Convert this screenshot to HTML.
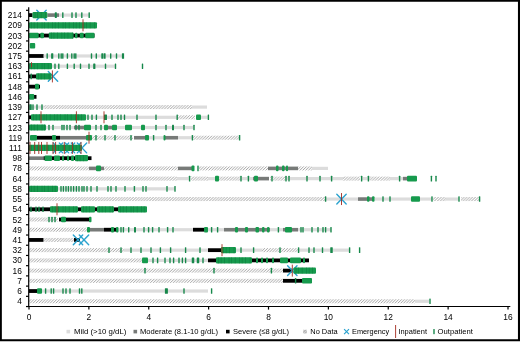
<!DOCTYPE html>
<html><head><meta charset="utf-8"><title>Hemoglobin timeline</title>
<style>
html,body{margin:0;padding:0;background:#fff}
body{width:520px;height:342px;overflow:hidden}
svg{display:block}
text{font-family:"Liberation Sans",Arial,sans-serif;fill:#000}
.yl{font-size:8.4px;text-anchor:end}
.xl{font-size:8.4px;text-anchor:middle}
.lg{font-size:8px}
</style></head><body>
<svg width="520" height="342" viewBox="0 0 520 342">
<defs><pattern id="h" patternUnits="userSpaceOnUse" width="2.85" height="2.85">
<path d="M-1 3.85L3.85 -1M-1 1L1 -1M1.85 3.85L3.85 1.85" stroke="#9c9c9c" stroke-width="0.95" fill="none"/></pattern></defs>
<rect width="520" height="342" fill="#fff"/>
<path d="M0.8 0.8H519V340.3H0.8Z" fill="none" stroke="#000" stroke-width="2.1"/>

<g shape-rendering="auto">
<rect x="29" y="13.2" width="3.5" height="3.8" fill="#000"/>
<rect x="47.3" y="13.3" width="11.7" height="3.6" fill="#777a78"/>
<rect x="59" y="13.5" width="31" height="3.2" fill="#dcdcdc"/>
<rect x="29" y="33.64" width="65.5" height="3.8" fill="#000"/>
<rect x="29" y="54.08" width="14.7" height="3.8" fill="#000"/>
<rect x="43.7" y="54.38" width="79.3" height="3.2" fill="#dcdcdc"/>
<rect x="39.5" y="64.3" width="2.5" height="3.8" fill="#000"/>
<rect x="52" y="64.6" width="64" height="3.2" fill="#dcdcdc"/>
<rect x="29" y="74.52" width="7.5" height="3.8" fill="#000"/>
<rect x="29" y="84.74" width="11" height="3.8" fill="#000"/>
<rect x="33" y="94.96" width="3.5" height="3.8" fill="#000"/>
<rect x="29" y="105.48" width="15" height="3.2" fill="#dcdcdc"/>
<rect x="44" y="105.08" width="148" height="4" fill="url(#h)"/>
<rect x="192" y="105.48" width="15" height="3.2" fill="#dcdcdc"/>
<rect x="29" y="115.4" width="6" height="3.8" fill="#000"/>
<rect x="86" y="115.7" width="91" height="3.2" fill="#dcdcdc"/>
<rect x="178" y="115.3" width="17" height="4" fill="url(#h)"/>
<rect x="201" y="115.7" width="7" height="3.2" fill="#dcdcdc"/>
<rect x="46" y="125.92" width="148" height="3.2" fill="#dcdcdc"/>
<rect x="74" y="125.72" width="11" height="3.6" fill="#777a78"/>
<rect x="108" y="125.72" width="4" height="3.6" fill="#777a78"/>
<rect x="37" y="135.84" width="23" height="3.8" fill="#000"/>
<rect x="60" y="135.94" width="26" height="3.6" fill="#777a78"/>
<rect x="92" y="135.74" width="41" height="4" fill="url(#h)"/>
<rect x="134" y="135.94" width="12" height="3.6" fill="#777a78"/>
<rect x="149" y="136.14" width="16" height="3.2" fill="#dcdcdc"/>
<rect x="165" y="135.94" width="13" height="3.6" fill="#777a78"/>
<rect x="178" y="136.14" width="14" height="3.2" fill="#dcdcdc"/>
<rect x="193" y="135.74" width="46" height="4" fill="url(#h)"/>
<rect x="29" y="156.38" width="14.5" height="3.6" fill="#777a78"/>
<rect x="43.5" y="156.28" width="48" height="3.8" fill="#000"/>
<rect x="29" y="166.4" width="60" height="4" fill="url(#h)"/>
<rect x="89" y="166.6" width="15" height="3.6" fill="#777a78"/>
<rect x="104" y="166.4" width="74" height="4" fill="url(#h)"/>
<rect x="178" y="166.6" width="15" height="3.6" fill="#777a78"/>
<rect x="199" y="166.4" width="69" height="4" fill="url(#h)"/>
<rect x="268" y="166.6" width="30" height="3.6" fill="#777a78"/>
<rect x="298" y="166.4" width="14" height="4" fill="url(#h)"/>
<rect x="312" y="166.8" width="16" height="3.2" fill="#dcdcdc"/>
<rect x="29" y="176.62" width="148" height="4" fill="url(#h)"/>
<rect x="177" y="177.02" width="12" height="3.2" fill="#dcdcdc"/>
<rect x="191" y="176.62" width="17" height="4" fill="url(#h)"/>
<rect x="208" y="177.02" width="7" height="3.2" fill="#dcdcdc"/>
<rect x="219" y="176.62" width="21" height="4" fill="url(#h)"/>
<rect x="240" y="177.02" width="13" height="3.2" fill="#dcdcdc"/>
<rect x="253" y="176.82" width="16" height="3.6" fill="#777a78"/>
<rect x="270" y="176.62" width="15" height="4" fill="url(#h)"/>
<rect x="285" y="177.02" width="58" height="3.2" fill="#dcdcdc"/>
<rect x="343" y="176.62" width="17" height="4" fill="url(#h)"/>
<rect x="361" y="177.02" width="9" height="3.2" fill="#dcdcdc"/>
<rect x="370" y="176.62" width="20" height="4" fill="url(#h)"/>
<rect x="390" y="177.02" width="13" height="3.2" fill="#dcdcdc"/>
<rect x="403" y="176.82" width="5" height="3.6" fill="#777a78"/>
<rect x="58" y="187.24" width="117" height="3.2" fill="#dcdcdc"/>
<rect x="29" y="197.06" width="296" height="4" fill="url(#h)"/>
<rect x="326" y="197.46" width="32" height="3.2" fill="#dcdcdc"/>
<rect x="358" y="197.26" width="16" height="3.6" fill="#777a78"/>
<rect x="374" y="197.46" width="37" height="3.2" fill="#dcdcdc"/>
<rect x="420" y="197.46" width="12" height="3.2" fill="#dcdcdc"/>
<rect x="433" y="197.06" width="13" height="4" fill="url(#h)"/>
<rect x="446" y="197.46" width="13" height="3.2" fill="#dcdcdc"/>
<rect x="461" y="197.06" width="18" height="4" fill="url(#h)"/>
<rect x="29" y="207.38" width="118" height="3.8" fill="#000"/>
<rect x="29" y="217.5" width="29" height="4" fill="url(#h)"/>
<rect x="59" y="217.6" width="32" height="3.8" fill="#000"/>
<rect x="29" y="227.72" width="58" height="4" fill="url(#h)"/>
<rect x="90" y="227.92" width="14" height="3.6" fill="#777a78"/>
<rect x="104" y="227.82" width="14" height="3.8" fill="#000"/>
<rect x="118" y="228.12" width="75" height="3.2" fill="#dcdcdc"/>
<rect x="193" y="227.82" width="11" height="3.8" fill="#000"/>
<rect x="208" y="228.12" width="16" height="3.2" fill="#dcdcdc"/>
<rect x="224" y="227.92" width="46" height="3.6" fill="#777a78"/>
<rect x="270" y="228.12" width="13" height="3.2" fill="#dcdcdc"/>
<rect x="283" y="227.92" width="15" height="3.6" fill="#777a78"/>
<rect x="298" y="228.12" width="33" height="3.2" fill="#dcdcdc"/>
<rect x="29" y="238.04" width="14.5" height="3.8" fill="#000"/>
<rect x="43.5" y="237.94" width="30.5" height="4" fill="url(#h)"/>
<rect x="74" y="238.04" width="6" height="3.8" fill="#000"/>
<rect x="29" y="248.16" width="95" height="4" fill="url(#h)"/>
<rect x="124" y="248.56" width="84" height="3.2" fill="#dcdcdc"/>
<rect x="208" y="248.26" width="14" height="3.8" fill="#000"/>
<rect x="236" y="248.56" width="26" height="3.2" fill="#dcdcdc"/>
<rect x="262" y="248.16" width="36" height="4" fill="url(#h)"/>
<rect x="298" y="248.56" width="51" height="3.2" fill="#dcdcdc"/>
<rect x="29" y="258.38" width="113" height="4" fill="url(#h)"/>
<rect x="148" y="258.78" width="60" height="3.2" fill="#dcdcdc"/>
<rect x="208" y="258.48" width="101" height="3.8" fill="#000"/>
<rect x="29" y="268.6" width="254" height="4" fill="url(#h)"/>
<rect x="283" y="268.7" width="9" height="3.8" fill="#000"/>
<rect x="29" y="278.82" width="254" height="4" fill="url(#h)"/>
<rect x="283" y="278.92" width="29" height="3.8" fill="#000"/>
<rect x="29" y="289.14" width="13" height="3.8" fill="#000"/>
<rect x="42" y="289.44" width="166" height="3.2" fill="#dcdcdc"/>
<rect x="29" y="299.26" width="386" height="4" fill="url(#h)"/>
<rect x="415" y="299.66" width="14" height="3.2" fill="#dcdcdc"/>
</g><g stroke="#2ba3cf" stroke-width="1.4" fill="none" stroke-linecap="round">
<path d="M36.8 10.2L46.2 20M36.8 20L46.2 10.2"/>
<path d="M48.3 71.52L57.7 81.32M48.3 81.32L57.7 71.52"/>
<path d="M53.3 143.06L62.7 152.86M53.3 152.86L62.7 143.06"/>
<path d="M59.3 143.06L68.7 152.86M59.3 152.86L68.7 143.06"/>
<path d="M65.3 143.06L74.7 152.86M65.3 152.86L74.7 143.06"/>
<path d="M71.3 143.06L80.7 152.86M71.3 152.86L80.7 143.06"/>
<path d="M77.3 143.06L86.7 152.86M77.3 152.86L86.7 143.06"/>
<path d="M336.8 194.16L346.2 203.96M336.8 203.96L346.2 194.16"/>
<path d="M73.3 235.04L82.7 244.84M73.3 244.84L82.7 235.04"/>
<path d="M79.3 235.04L88.7 244.84M79.3 244.84L88.7 235.04"/>
<path d="M287.6 265.7L297 275.5M287.6 275.5L297 265.7"/>
</g><g>
<rect x="32.5" y="12" width="14.8" height="6.2" rx="1" fill="#169a4d"/>
<rect x="34.7" y="12" width="0.7" height="6.2" fill="#0c7038" opacity="0.55"/>
<rect x="37.3" y="12" width="0.7" height="6.2" fill="#0c7038" opacity="0.55"/>
<rect x="40.8" y="12" width="0.7" height="6.2" fill="#0c7038" opacity="0.55"/>
<rect x="45.2" y="12" width="0.7" height="6.2" fill="#0c7038" opacity="0.55"/>
<rect x="54.8" y="12.3" width="2" height="5.6" rx="0.5" fill="#17884b"/>
<rect x="62.1" y="12.3" width="1.4" height="5.6" rx="0.5" fill="#17884b"/>
<rect x="71.3" y="12.3" width="1.4" height="5.6" rx="0.5" fill="#17884b"/>
<rect x="75.3" y="12.3" width="1.4" height="5.6" rx="0.5" fill="#17884b"/>
<rect x="81.1" y="12.3" width="1.4" height="5.6" rx="0.5" fill="#17884b"/>
<rect x="88.5" y="12.3" width="1.4" height="5.6" rx="0.5" fill="#17884b"/>
<rect x="29" y="22.22" width="68" height="6.2" rx="1" fill="#169a4d"/>
<rect x="31.2" y="22.22" width="0.7" height="6.2" fill="#0c7038" opacity="0.55"/>
<rect x="33.8" y="22.22" width="0.7" height="6.2" fill="#0c7038" opacity="0.55"/>
<rect x="37.3" y="22.22" width="0.7" height="6.2" fill="#0c7038" opacity="0.55"/>
<rect x="41.7" y="22.22" width="0.7" height="6.2" fill="#0c7038" opacity="0.55"/>
<rect x="44.3" y="22.22" width="0.7" height="6.2" fill="#0c7038" opacity="0.55"/>
<rect x="47.8" y="22.22" width="0.7" height="6.2" fill="#0c7038" opacity="0.55"/>
<rect x="52.2" y="22.22" width="0.7" height="6.2" fill="#0c7038" opacity="0.55"/>
<rect x="54.8" y="22.22" width="0.7" height="6.2" fill="#0c7038" opacity="0.55"/>
<rect x="58.3" y="22.22" width="0.7" height="6.2" fill="#0c7038" opacity="0.55"/>
<rect x="62.7" y="22.22" width="0.7" height="6.2" fill="#0c7038" opacity="0.55"/>
<rect x="65.3" y="22.22" width="0.7" height="6.2" fill="#0c7038" opacity="0.55"/>
<rect x="68.8" y="22.22" width="0.7" height="6.2" fill="#0c7038" opacity="0.55"/>
<rect x="73.2" y="22.22" width="0.7" height="6.2" fill="#0c7038" opacity="0.55"/>
<rect x="75.8" y="22.22" width="0.7" height="6.2" fill="#0c7038" opacity="0.55"/>
<rect x="79.3" y="22.22" width="0.7" height="6.2" fill="#0c7038" opacity="0.55"/>
<rect x="83.7" y="22.22" width="0.7" height="6.2" fill="#0c7038" opacity="0.55"/>
<rect x="86.3" y="22.22" width="0.7" height="6.2" fill="#0c7038" opacity="0.55"/>
<rect x="89.8" y="22.22" width="0.7" height="6.2" fill="#0c7038" opacity="0.55"/>
<rect x="94.2" y="22.22" width="0.7" height="6.2" fill="#0c7038" opacity="0.55"/>
<rect x="29" y="32.74" width="9.7" height="5.6" rx="1" fill="#169a4d"/>
<rect x="40.3" y="32.74" width="3.7" height="5.6" rx="1" fill="#169a4d"/>
<rect x="48.8" y="32.44" width="24.8" height="6.2" rx="1" fill="#169a4d"/>
<rect x="51" y="32.44" width="0.7" height="6.2" fill="#0c7038" opacity="0.55"/>
<rect x="53.6" y="32.44" width="0.7" height="6.2" fill="#0c7038" opacity="0.55"/>
<rect x="57.1" y="32.44" width="0.7" height="6.2" fill="#0c7038" opacity="0.55"/>
<rect x="61.5" y="32.44" width="0.7" height="6.2" fill="#0c7038" opacity="0.55"/>
<rect x="64.1" y="32.44" width="0.7" height="6.2" fill="#0c7038" opacity="0.55"/>
<rect x="67.6" y="32.44" width="0.7" height="6.2" fill="#0c7038" opacity="0.55"/>
<rect x="72" y="32.44" width="0.7" height="6.2" fill="#0c7038" opacity="0.55"/>
<rect x="75" y="32.74" width="2.5" height="5.6" rx="1" fill="#169a4d"/>
<rect x="79.8" y="32.74" width="3.9" height="5.6" rx="1" fill="#169a4d"/>
<rect x="85.2" y="32.74" width="9.3" height="5.6" rx="1" fill="#169a4d"/>
<rect x="29.8" y="42.96" width="5.4" height="5.6" rx="1" fill="#169a4d"/>
<rect x="46.5" y="53.18" width="1.4" height="5.6" rx="0.5" fill="#17884b"/>
<rect x="51.1" y="53.18" width="2.2" height="5.6" rx="0.5" fill="#17884b"/>
<rect x="58.1" y="53.18" width="1.4" height="5.6" rx="0.5" fill="#17884b"/>
<rect x="60.5" y="53.18" width="1.4" height="5.6" rx="0.5" fill="#17884b"/>
<rect x="62.1" y="53.18" width="1.4" height="5.6" rx="0.5" fill="#17884b"/>
<rect x="66.7" y="53.18" width="1.4" height="5.6" rx="0.5" fill="#17884b"/>
<rect x="71.1" y="53.18" width="1.4" height="5.6" rx="0.5" fill="#17884b"/>
<rect x="73.5" y="53.18" width="1.4" height="5.6" rx="0.5" fill="#17884b"/>
<rect x="75.1" y="53.18" width="1.4" height="5.6" rx="0.5" fill="#17884b"/>
<rect x="90.8" y="53.18" width="1.4" height="5.6" rx="0.5" fill="#17884b"/>
<rect x="95.6" y="53.18" width="1.4" height="5.6" rx="0.5" fill="#17884b"/>
<rect x="101.3" y="53.18" width="2" height="5.6" rx="0.5" fill="#17884b"/>
<rect x="103.6" y="53.18" width="2" height="5.6" rx="0.5" fill="#17884b"/>
<rect x="110" y="53.18" width="1.4" height="5.6" rx="0.5" fill="#17884b"/>
<rect x="115.8" y="53.18" width="1.4" height="5.6" rx="0.5" fill="#17884b"/>
<rect x="121.9" y="53.18" width="2.2" height="5.6" rx="0.5" fill="#17884b"/>
<rect x="29" y="63.1" width="23" height="6.2" rx="1" fill="#169a4d"/>
<rect x="31.2" y="63.1" width="0.7" height="6.2" fill="#0c7038" opacity="0.55"/>
<rect x="33.8" y="63.1" width="0.7" height="6.2" fill="#0c7038" opacity="0.55"/>
<rect x="37.3" y="63.1" width="0.7" height="6.2" fill="#0c7038" opacity="0.55"/>
<rect x="41.7" y="63.1" width="0.7" height="6.2" fill="#0c7038" opacity="0.55"/>
<rect x="44.3" y="63.1" width="0.7" height="6.2" fill="#0c7038" opacity="0.55"/>
<rect x="47.8" y="63.1" width="0.7" height="6.2" fill="#0c7038" opacity="0.55"/>
<rect x="54.3" y="63.4" width="1.4" height="5.6" rx="0.5" fill="#17884b"/>
<rect x="58.1" y="63.4" width="1.4" height="5.6" rx="0.5" fill="#17884b"/>
<rect x="66.7" y="63.4" width="1.4" height="5.6" rx="0.5" fill="#17884b"/>
<rect x="73.5" y="63.4" width="1.4" height="5.6" rx="0.5" fill="#17884b"/>
<rect x="79.8" y="63.4" width="1.4" height="5.6" rx="0.5" fill="#17884b"/>
<rect x="88.3" y="63.4" width="1.4" height="5.6" rx="0.5" fill="#17884b"/>
<rect x="93.2" y="63.4" width="2.2" height="5.6" rx="0.5" fill="#17884b"/>
<rect x="104.8" y="63.4" width="1.4" height="5.6" rx="0.5" fill="#17884b"/>
<rect x="114.8" y="63.4" width="1.4" height="5.6" rx="0.5" fill="#17884b"/>
<rect x="141.8" y="63.4" width="1.4" height="5.6" rx="0.5" fill="#17884b"/>
<rect x="30.5" y="73.62" width="1.4" height="5.6" rx="0.5" fill="#17884b"/>
<rect x="36" y="73.32" width="15.5" height="6.2" rx="1" fill="#169a4d"/>
<rect x="38.2" y="73.32" width="0.7" height="6.2" fill="#0c7038" opacity="0.55"/>
<rect x="40.8" y="73.32" width="0.7" height="6.2" fill="#0c7038" opacity="0.55"/>
<rect x="44.3" y="73.32" width="0.7" height="6.2" fill="#0c7038" opacity="0.55"/>
<rect x="48.7" y="73.32" width="0.7" height="6.2" fill="#0c7038" opacity="0.55"/>
<rect x="35" y="83.84" width="4" height="5.6" rx="1" fill="#169a4d"/>
<rect x="29" y="94.06" width="5.2" height="5.6" rx="1" fill="#169a4d"/>
<rect x="29.25" y="104.28" width="2.5" height="5.6" rx="0.5" fill="#17884b"/>
<rect x="32.3" y="104.28" width="1.4" height="5.6" rx="0.5" fill="#17884b"/>
<rect x="36.3" y="104.28" width="1.4" height="5.6" rx="0.5" fill="#17884b"/>
<rect x="41.3" y="104.28" width="1.4" height="5.6" rx="0.5" fill="#17884b"/>
<rect x="31" y="114.2" width="55" height="6.2" rx="1" fill="#169a4d"/>
<rect x="33.2" y="114.2" width="0.7" height="6.2" fill="#0c7038" opacity="0.55"/>
<rect x="35.8" y="114.2" width="0.7" height="6.2" fill="#0c7038" opacity="0.55"/>
<rect x="39.3" y="114.2" width="0.7" height="6.2" fill="#0c7038" opacity="0.55"/>
<rect x="43.7" y="114.2" width="0.7" height="6.2" fill="#0c7038" opacity="0.55"/>
<rect x="46.3" y="114.2" width="0.7" height="6.2" fill="#0c7038" opacity="0.55"/>
<rect x="49.8" y="114.2" width="0.7" height="6.2" fill="#0c7038" opacity="0.55"/>
<rect x="54.2" y="114.2" width="0.7" height="6.2" fill="#0c7038" opacity="0.55"/>
<rect x="56.8" y="114.2" width="0.7" height="6.2" fill="#0c7038" opacity="0.55"/>
<rect x="60.3" y="114.2" width="0.7" height="6.2" fill="#0c7038" opacity="0.55"/>
<rect x="64.7" y="114.2" width="0.7" height="6.2" fill="#0c7038" opacity="0.55"/>
<rect x="67.3" y="114.2" width="0.7" height="6.2" fill="#0c7038" opacity="0.55"/>
<rect x="70.8" y="114.2" width="0.7" height="6.2" fill="#0c7038" opacity="0.55"/>
<rect x="75.2" y="114.2" width="0.7" height="6.2" fill="#0c7038" opacity="0.55"/>
<rect x="77.8" y="114.2" width="0.7" height="6.2" fill="#0c7038" opacity="0.55"/>
<rect x="81.3" y="114.2" width="0.7" height="6.2" fill="#0c7038" opacity="0.55"/>
<rect x="87.3" y="114.5" width="1.4" height="5.6" rx="0.5" fill="#17884b"/>
<rect x="91.3" y="114.5" width="1.4" height="5.6" rx="0.5" fill="#17884b"/>
<rect x="95.7" y="114.5" width="1.4" height="5.6" rx="0.5" fill="#17884b"/>
<rect x="104" y="114.5" width="3" height="5.6" rx="0.5" fill="#17884b"/>
<rect x="111.3" y="114.5" width="1.4" height="5.6" rx="0.5" fill="#17884b"/>
<rect x="117.3" y="114.5" width="1.4" height="5.6" rx="0.5" fill="#17884b"/>
<rect x="120.3" y="114.5" width="1.4" height="5.6" rx="0.5" fill="#17884b"/>
<rect x="123.8" y="114.5" width="1.4" height="5.6" rx="0.5" fill="#17884b"/>
<rect x="136.3" y="114.5" width="1.4" height="5.6" rx="0.5" fill="#17884b"/>
<rect x="155.3" y="114.5" width="1.4" height="5.6" rx="0.5" fill="#17884b"/>
<rect x="176.5" y="114.5" width="1.4" height="5.6" rx="0.5" fill="#17884b"/>
<rect x="196" y="114.5" width="5" height="5.6" rx="1" fill="#169a4d"/>
<rect x="207.7" y="114.5" width="1.4" height="5.6" rx="0.5" fill="#17884b"/>
<rect x="29" y="124.42" width="17" height="6.2" rx="1" fill="#169a4d"/>
<rect x="31.2" y="124.42" width="0.7" height="6.2" fill="#0c7038" opacity="0.55"/>
<rect x="33.8" y="124.42" width="0.7" height="6.2" fill="#0c7038" opacity="0.55"/>
<rect x="37.3" y="124.42" width="0.7" height="6.2" fill="#0c7038" opacity="0.55"/>
<rect x="41.7" y="124.42" width="0.7" height="6.2" fill="#0c7038" opacity="0.55"/>
<rect x="44.3" y="124.42" width="0.7" height="6.2" fill="#0c7038" opacity="0.55"/>
<rect x="48.3" y="124.72" width="1.4" height="5.6" rx="0.5" fill="#17884b"/>
<rect x="52.3" y="124.72" width="1.4" height="5.6" rx="0.5" fill="#17884b"/>
<rect x="61.3" y="124.72" width="1.4" height="5.6" rx="0.5" fill="#17884b"/>
<rect x="63.3" y="124.72" width="1.4" height="5.6" rx="0.5" fill="#17884b"/>
<rect x="66.3" y="124.72" width="1.4" height="5.6" rx="0.5" fill="#17884b"/>
<rect x="69.3" y="124.72" width="1.4" height="5.6" rx="0.5" fill="#17884b"/>
<rect x="75.3" y="124.72" width="1.4" height="5.6" rx="0.5" fill="#17884b"/>
<rect x="78.3" y="124.72" width="1.4" height="5.6" rx="0.5" fill="#17884b"/>
<rect x="84" y="124.72" width="7" height="5.6" rx="1" fill="#169a4d"/>
<rect x="95.3" y="124.72" width="1.4" height="5.6" rx="0.5" fill="#17884b"/>
<rect x="100.3" y="124.72" width="1.4" height="5.6" rx="0.5" fill="#17884b"/>
<rect x="104" y="124.72" width="4" height="5.6" rx="1" fill="#169a4d"/>
<rect x="112" y="124.72" width="5" height="5.6" rx="1" fill="#169a4d"/>
<rect x="125" y="124.72" width="7" height="5.6" rx="1" fill="#169a4d"/>
<rect x="141" y="124.72" width="4" height="5.6" rx="1" fill="#169a4d"/>
<rect x="155.3" y="124.72" width="1.4" height="5.6" rx="0.5" fill="#17884b"/>
<rect x="165.3" y="124.72" width="1.4" height="5.6" rx="0.5" fill="#17884b"/>
<rect x="172" y="124.72" width="2" height="5.6" rx="0.5" fill="#17884b"/>
<rect x="183.3" y="124.72" width="1.4" height="5.6" rx="0.5" fill="#17884b"/>
<rect x="193.3" y="124.72" width="1.4" height="5.6" rx="0.5" fill="#17884b"/>
<rect x="30" y="134.94" width="7" height="5.6" rx="1" fill="#169a4d"/>
<rect x="52" y="134.94" width="4" height="5.6" rx="1" fill="#169a4d"/>
<rect x="86" y="134.94" width="6" height="5.6" rx="1" fill="#169a4d"/>
<rect x="95.3" y="134.94" width="1.4" height="5.6" rx="0.5" fill="#17884b"/>
<rect x="104.3" y="134.94" width="1.4" height="5.6" rx="0.5" fill="#17884b"/>
<rect x="114.3" y="134.94" width="1.4" height="5.6" rx="0.5" fill="#17884b"/>
<rect x="130.3" y="134.94" width="1.4" height="5.6" rx="0.5" fill="#17884b"/>
<rect x="145" y="134.94" width="4" height="5.6" rx="1" fill="#169a4d"/>
<rect x="152.9" y="134.94" width="1.4" height="5.6" rx="0.5" fill="#17884b"/>
<rect x="163.5" y="134.94" width="2" height="5.6" rx="1" fill="#169a4d"/>
<rect x="191.7" y="134.94" width="1.4" height="5.6" rx="0.5" fill="#17884b"/>
<rect x="238.9" y="134.94" width="1.4" height="5.6" rx="0.5" fill="#17884b"/>
<rect x="29" y="144.86" width="53" height="6.2" rx="1" fill="#169a4d"/>
<rect x="31.2" y="144.86" width="0.7" height="6.2" fill="#0c7038" opacity="0.55"/>
<rect x="33.8" y="144.86" width="0.7" height="6.2" fill="#0c7038" opacity="0.55"/>
<rect x="37.3" y="144.86" width="0.7" height="6.2" fill="#0c7038" opacity="0.55"/>
<rect x="41.7" y="144.86" width="0.7" height="6.2" fill="#0c7038" opacity="0.55"/>
<rect x="44.3" y="144.86" width="0.7" height="6.2" fill="#0c7038" opacity="0.55"/>
<rect x="47.8" y="144.86" width="0.7" height="6.2" fill="#0c7038" opacity="0.55"/>
<rect x="52.2" y="144.86" width="0.7" height="6.2" fill="#0c7038" opacity="0.55"/>
<rect x="54.8" y="144.86" width="0.7" height="6.2" fill="#0c7038" opacity="0.55"/>
<rect x="58.3" y="144.86" width="0.7" height="6.2" fill="#0c7038" opacity="0.55"/>
<rect x="62.7" y="144.86" width="0.7" height="6.2" fill="#0c7038" opacity="0.55"/>
<rect x="65.3" y="144.86" width="0.7" height="6.2" fill="#0c7038" opacity="0.55"/>
<rect x="68.8" y="144.86" width="0.7" height="6.2" fill="#0c7038" opacity="0.55"/>
<rect x="73.2" y="144.86" width="0.7" height="6.2" fill="#0c7038" opacity="0.55"/>
<rect x="75.8" y="144.86" width="0.7" height="6.2" fill="#0c7038" opacity="0.55"/>
<rect x="79.3" y="144.86" width="0.7" height="6.2" fill="#0c7038" opacity="0.55"/>
<rect x="44.5" y="155.38" width="7.5" height="5.6" rx="1" fill="#169a4d"/>
<rect x="54" y="155.38" width="6" height="5.6" rx="1" fill="#169a4d"/>
<rect x="62" y="155.38" width="2" height="5.6" rx="1" fill="#169a4d"/>
<rect x="67" y="155.38" width="2" height="5.6" rx="1" fill="#169a4d"/>
<rect x="71" y="155.38" width="3" height="5.6" rx="1" fill="#169a4d"/>
<rect x="75" y="155.08" width="13" height="6.2" rx="1" fill="#169a4d"/>
<rect x="77.2" y="155.08" width="0.7" height="6.2" fill="#0c7038" opacity="0.55"/>
<rect x="79.8" y="155.08" width="0.7" height="6.2" fill="#0c7038" opacity="0.55"/>
<rect x="83.3" y="155.08" width="0.7" height="6.2" fill="#0c7038" opacity="0.55"/>
<rect x="96" y="165.6" width="5" height="5.6" rx="1" fill="#169a4d"/>
<rect x="191.5" y="165.6" width="3" height="5.6" rx="1" fill="#169a4d"/>
<rect x="197.3" y="165.6" width="1.4" height="5.6" rx="0.5" fill="#17884b"/>
<rect x="276" y="165.6" width="2.5" height="5.6" rx="1" fill="#169a4d"/>
<rect x="282" y="165.6" width="2.5" height="5.6" rx="1" fill="#169a4d"/>
<rect x="286" y="165.6" width="2" height="5.6" rx="1" fill="#169a4d"/>
<rect x="188.9" y="175.82" width="1.4" height="5.6" rx="0.5" fill="#17884b"/>
<rect x="215" y="175.82" width="4" height="5.6" rx="1" fill="#169a4d"/>
<rect x="240.3" y="175.82" width="1.4" height="5.6" rx="0.5" fill="#17884b"/>
<rect x="247.7" y="175.82" width="1.4" height="5.6" rx="0.5" fill="#17884b"/>
<rect x="254" y="175.82" width="4" height="5.6" rx="1" fill="#169a4d"/>
<rect x="271.3" y="175.82" width="1.4" height="5.6" rx="0.5" fill="#17884b"/>
<rect x="285.3" y="175.82" width="1.4" height="5.6" rx="0.5" fill="#17884b"/>
<rect x="288.3" y="175.82" width="1.4" height="5.6" rx="0.5" fill="#17884b"/>
<rect x="306.3" y="175.82" width="1.4" height="5.6" rx="0.5" fill="#17884b"/>
<rect x="319.3" y="175.82" width="1.4" height="5.6" rx="0.5" fill="#17884b"/>
<rect x="330.9" y="175.82" width="1.4" height="5.6" rx="0.5" fill="#17884b"/>
<rect x="360.9" y="175.82" width="1.4" height="5.6" rx="0.5" fill="#17884b"/>
<rect x="367.7" y="175.82" width="1.4" height="5.6" rx="0.5" fill="#17884b"/>
<rect x="398.9" y="175.82" width="1.4" height="5.6" rx="0.5" fill="#17884b"/>
<rect x="407" y="175.82" width="10" height="5.6" rx="1" fill="#169a4d"/>
<rect x="430.7" y="175.82" width="1.4" height="5.6" rx="0.5" fill="#17884b"/>
<rect x="435.3" y="175.82" width="1.4" height="5.6" rx="0.5" fill="#17884b"/>
<rect x="29" y="185.74" width="29" height="6.2" rx="1" fill="#169a4d"/>
<rect x="31.2" y="185.74" width="0.7" height="6.2" fill="#0c7038" opacity="0.55"/>
<rect x="33.8" y="185.74" width="0.7" height="6.2" fill="#0c7038" opacity="0.55"/>
<rect x="37.3" y="185.74" width="0.7" height="6.2" fill="#0c7038" opacity="0.55"/>
<rect x="41.7" y="185.74" width="0.7" height="6.2" fill="#0c7038" opacity="0.55"/>
<rect x="44.3" y="185.74" width="0.7" height="6.2" fill="#0c7038" opacity="0.55"/>
<rect x="47.8" y="185.74" width="0.7" height="6.2" fill="#0c7038" opacity="0.55"/>
<rect x="52.2" y="185.74" width="0.7" height="6.2" fill="#0c7038" opacity="0.55"/>
<rect x="54.8" y="185.74" width="0.7" height="6.2" fill="#0c7038" opacity="0.55"/>
<rect x="60.3" y="186.04" width="1.4" height="5.6" rx="0.5" fill="#17884b"/>
<rect x="62.7" y="186.04" width="1.4" height="5.6" rx="0.5" fill="#17884b"/>
<rect x="65.3" y="186.04" width="1.4" height="5.6" rx="0.5" fill="#17884b"/>
<rect x="67.7" y="186.04" width="1.4" height="5.6" rx="0.5" fill="#17884b"/>
<rect x="70.3" y="186.04" width="1.4" height="5.6" rx="0.5" fill="#17884b"/>
<rect x="72.9" y="186.04" width="1.4" height="5.6" rx="0.5" fill="#17884b"/>
<rect x="75.7" y="186.04" width="1.4" height="5.6" rx="0.5" fill="#17884b"/>
<rect x="78.3" y="186.04" width="1.4" height="5.6" rx="0.5" fill="#17884b"/>
<rect x="81.3" y="186.04" width="1.4" height="5.6" rx="0.5" fill="#17884b"/>
<rect x="83.3" y="186.04" width="1.4" height="5.6" rx="0.5" fill="#17884b"/>
<rect x="86.3" y="186.04" width="1.4" height="5.6" rx="0.5" fill="#17884b"/>
<rect x="90.3" y="186.04" width="1.4" height="5.6" rx="0.5" fill="#17884b"/>
<rect x="96.3" y="186.04" width="1.4" height="5.6" rx="0.5" fill="#17884b"/>
<rect x="107.3" y="186.04" width="1.4" height="5.6" rx="0.5" fill="#17884b"/>
<rect x="110.3" y="186.04" width="1.4" height="5.6" rx="0.5" fill="#17884b"/>
<rect x="115.3" y="186.04" width="1.4" height="5.6" rx="0.5" fill="#17884b"/>
<rect x="124.3" y="186.04" width="1.4" height="5.6" rx="0.5" fill="#17884b"/>
<rect x="133.7" y="186.04" width="1.4" height="5.6" rx="0.5" fill="#17884b"/>
<rect x="142.3" y="186.04" width="1.4" height="5.6" rx="0.5" fill="#17884b"/>
<rect x="145.3" y="186.04" width="1.4" height="5.6" rx="0.5" fill="#17884b"/>
<rect x="166.3" y="186.04" width="1.4" height="5.6" rx="0.5" fill="#17884b"/>
<rect x="174.3" y="186.04" width="1.4" height="5.6" rx="0.5" fill="#17884b"/>
<rect x="324.9" y="196.26" width="1.4" height="5.6" rx="0.5" fill="#17884b"/>
<rect x="367" y="196.26" width="2.5" height="5.6" rx="1" fill="#169a4d"/>
<rect x="372" y="196.26" width="2.5" height="5.6" rx="1" fill="#169a4d"/>
<rect x="382.3" y="196.26" width="1.4" height="5.6" rx="0.5" fill="#17884b"/>
<rect x="389.3" y="196.26" width="1.4" height="5.6" rx="0.5" fill="#17884b"/>
<rect x="411" y="196.26" width="9" height="5.6" rx="1" fill="#169a4d"/>
<rect x="431.3" y="196.26" width="1.4" height="5.6" rx="0.5" fill="#17884b"/>
<rect x="458.3" y="196.26" width="1.4" height="5.6" rx="0.5" fill="#17884b"/>
<rect x="478.9" y="196.26" width="1.4" height="5.6" rx="0.5" fill="#17884b"/>
<rect x="30.3" y="206.48" width="1.4" height="5.6" rx="0.5" fill="#17884b"/>
<rect x="35.3" y="206.48" width="1.4" height="5.6" rx="0.5" fill="#17884b"/>
<rect x="38.3" y="206.48" width="1.4" height="5.6" rx="0.5" fill="#17884b"/>
<rect x="42.3" y="206.48" width="1.4" height="5.6" rx="0.5" fill="#17884b"/>
<rect x="50" y="206.18" width="28" height="6.2" rx="1" fill="#169a4d"/>
<rect x="52.2" y="206.18" width="0.7" height="6.2" fill="#0c7038" opacity="0.55"/>
<rect x="54.8" y="206.18" width="0.7" height="6.2" fill="#0c7038" opacity="0.55"/>
<rect x="58.3" y="206.18" width="0.7" height="6.2" fill="#0c7038" opacity="0.55"/>
<rect x="62.7" y="206.18" width="0.7" height="6.2" fill="#0c7038" opacity="0.55"/>
<rect x="65.3" y="206.18" width="0.7" height="6.2" fill="#0c7038" opacity="0.55"/>
<rect x="68.8" y="206.18" width="0.7" height="6.2" fill="#0c7038" opacity="0.55"/>
<rect x="73.2" y="206.18" width="0.7" height="6.2" fill="#0c7038" opacity="0.55"/>
<rect x="75.8" y="206.18" width="0.7" height="6.2" fill="#0c7038" opacity="0.55"/>
<rect x="81" y="206.18" width="14" height="6.2" rx="1" fill="#169a4d"/>
<rect x="83.2" y="206.18" width="0.7" height="6.2" fill="#0c7038" opacity="0.55"/>
<rect x="85.8" y="206.18" width="0.7" height="6.2" fill="#0c7038" opacity="0.55"/>
<rect x="89.3" y="206.18" width="0.7" height="6.2" fill="#0c7038" opacity="0.55"/>
<rect x="97" y="206.18" width="17" height="6.2" rx="1" fill="#169a4d"/>
<rect x="99.2" y="206.18" width="0.7" height="6.2" fill="#0c7038" opacity="0.55"/>
<rect x="101.8" y="206.18" width="0.7" height="6.2" fill="#0c7038" opacity="0.55"/>
<rect x="105.3" y="206.18" width="0.7" height="6.2" fill="#0c7038" opacity="0.55"/>
<rect x="109.7" y="206.18" width="0.7" height="6.2" fill="#0c7038" opacity="0.55"/>
<rect x="112.3" y="206.18" width="0.7" height="6.2" fill="#0c7038" opacity="0.55"/>
<rect x="118" y="206.18" width="29" height="6.2" rx="1" fill="#169a4d"/>
<rect x="120.2" y="206.18" width="0.7" height="6.2" fill="#0c7038" opacity="0.55"/>
<rect x="122.8" y="206.18" width="0.7" height="6.2" fill="#0c7038" opacity="0.55"/>
<rect x="126.3" y="206.18" width="0.7" height="6.2" fill="#0c7038" opacity="0.55"/>
<rect x="130.7" y="206.18" width="0.7" height="6.2" fill="#0c7038" opacity="0.55"/>
<rect x="133.3" y="206.18" width="0.7" height="6.2" fill="#0c7038" opacity="0.55"/>
<rect x="136.8" y="206.18" width="0.7" height="6.2" fill="#0c7038" opacity="0.55"/>
<rect x="141.2" y="206.18" width="0.7" height="6.2" fill="#0c7038" opacity="0.55"/>
<rect x="143.8" y="206.18" width="0.7" height="6.2" fill="#0c7038" opacity="0.55"/>
<rect x="48.3" y="216.7" width="1.4" height="5.6" rx="0.5" fill="#17884b"/>
<rect x="51.3" y="216.7" width="1.4" height="5.6" rx="0.5" fill="#17884b"/>
<rect x="54.3" y="216.7" width="1.4" height="5.6" rx="0.5" fill="#17884b"/>
<rect x="61" y="216.7" width="5" height="5.6" rx="1" fill="#169a4d"/>
<rect x="89" y="216.7" width="2.5" height="5.6" rx="1" fill="#169a4d"/>
<rect x="87" y="226.92" width="3" height="5.6" rx="1" fill="#169a4d"/>
<rect x="111" y="226.92" width="3" height="5.6" rx="1" fill="#169a4d"/>
<rect x="116" y="226.92" width="2.5" height="5.6" rx="1" fill="#169a4d"/>
<rect x="120.3" y="226.92" width="1.4" height="5.6" rx="0.5" fill="#17884b"/>
<rect x="122.7" y="226.92" width="1.4" height="5.6" rx="0.5" fill="#17884b"/>
<rect x="128" y="226.92" width="1.4" height="5.6" rx="0.5" fill="#17884b"/>
<rect x="134" y="226.92" width="2" height="5.6" rx="0.5" fill="#17884b"/>
<rect x="143.3" y="226.92" width="1.4" height="5.6" rx="0.5" fill="#17884b"/>
<rect x="147.9" y="226.92" width="1.4" height="5.6" rx="0.5" fill="#17884b"/>
<rect x="151.9" y="226.92" width="1.4" height="5.6" rx="0.5" fill="#17884b"/>
<rect x="158.3" y="226.92" width="1.4" height="5.6" rx="0.5" fill="#17884b"/>
<rect x="166.9" y="226.92" width="1.4" height="5.6" rx="0.5" fill="#17884b"/>
<rect x="172.3" y="226.92" width="1.4" height="5.6" rx="0.5" fill="#17884b"/>
<rect x="204" y="226.92" width="4" height="5.6" rx="1" fill="#169a4d"/>
<rect x="210.9" y="226.92" width="1.4" height="5.6" rx="0.5" fill="#17884b"/>
<rect x="216.9" y="226.92" width="1.4" height="5.6" rx="0.5" fill="#17884b"/>
<rect x="235" y="226.92" width="3" height="5.6" rx="1" fill="#169a4d"/>
<rect x="245" y="226.92" width="3" height="5.6" rx="1" fill="#169a4d"/>
<rect x="255.5" y="226.92" width="3.5" height="5.6" rx="1" fill="#169a4d"/>
<rect x="262" y="226.92" width="2.5" height="5.6" rx="1" fill="#169a4d"/>
<rect x="267" y="226.92" width="2.5" height="5.6" rx="1" fill="#169a4d"/>
<rect x="277.7" y="226.92" width="1.4" height="5.6" rx="0.5" fill="#17884b"/>
<rect x="285" y="226.92" width="7" height="5.6" rx="1" fill="#169a4d"/>
<rect x="300.3" y="226.92" width="1.4" height="5.6" rx="0.5" fill="#17884b"/>
<rect x="302.3" y="226.92" width="1.4" height="5.6" rx="0.5" fill="#17884b"/>
<rect x="311.3" y="226.92" width="1.4" height="5.6" rx="0.5" fill="#17884b"/>
<rect x="317.3" y="226.92" width="1.4" height="5.6" rx="0.5" fill="#17884b"/>
<rect x="322.3" y="226.92" width="1.4" height="5.6" rx="0.5" fill="#17884b"/>
<rect x="324.9" y="226.92" width="1.4" height="5.6" rx="0.5" fill="#17884b"/>
<rect x="330.3" y="226.92" width="1.4" height="5.6" rx="0.5" fill="#17884b"/>
<rect x="108.3" y="247.36" width="1.4" height="5.6" rx="0.5" fill="#17884b"/>
<rect x="120.3" y="247.36" width="1.4" height="5.6" rx="0.5" fill="#17884b"/>
<rect x="130.3" y="247.36" width="1.4" height="5.6" rx="0.5" fill="#17884b"/>
<rect x="140.3" y="247.36" width="1.4" height="5.6" rx="0.5" fill="#17884b"/>
<rect x="150.3" y="247.36" width="1.4" height="5.6" rx="0.5" fill="#17884b"/>
<rect x="159.7" y="247.36" width="1.4" height="5.6" rx="0.5" fill="#17884b"/>
<rect x="169.9" y="247.36" width="1.4" height="5.6" rx="0.5" fill="#17884b"/>
<rect x="184.9" y="247.36" width="1.4" height="5.6" rx="0.5" fill="#17884b"/>
<rect x="199.3" y="247.36" width="1.4" height="5.6" rx="0.5" fill="#17884b"/>
<rect x="221" y="247.06" width="15" height="6.2" rx="1" fill="#169a4d"/>
<rect x="223.2" y="247.06" width="0.7" height="6.2" fill="#0c7038" opacity="0.55"/>
<rect x="225.8" y="247.06" width="0.7" height="6.2" fill="#0c7038" opacity="0.55"/>
<rect x="229.3" y="247.06" width="0.7" height="6.2" fill="#0c7038" opacity="0.55"/>
<rect x="233.7" y="247.06" width="0.7" height="6.2" fill="#0c7038" opacity="0.55"/>
<rect x="240.3" y="247.36" width="1.4" height="5.6" rx="0.5" fill="#17884b"/>
<rect x="252.9" y="247.36" width="1.4" height="5.6" rx="0.5" fill="#17884b"/>
<rect x="279.3" y="247.36" width="1.4" height="5.6" rx="0.5" fill="#17884b"/>
<rect x="297.9" y="247.36" width="1.4" height="5.6" rx="0.5" fill="#17884b"/>
<rect x="308.3" y="247.36" width="1.4" height="5.6" rx="0.5" fill="#17884b"/>
<rect x="313.3" y="247.36" width="1.4" height="5.6" rx="0.5" fill="#17884b"/>
<rect x="321.8" y="247.36" width="1.4" height="5.6" rx="0.5" fill="#17884b"/>
<rect x="330.25" y="247.36" width="2.5" height="5.6" rx="0.5" fill="#17884b"/>
<rect x="348.9" y="247.36" width="1.4" height="5.6" rx="0.5" fill="#17884b"/>
<rect x="358.9" y="247.36" width="1.4" height="5.6" rx="0.5" fill="#17884b"/>
<rect x="142" y="257.58" width="6" height="5.6" rx="1" fill="#169a4d"/>
<rect x="152.3" y="257.58" width="1.4" height="5.6" rx="0.5" fill="#17884b"/>
<rect x="156.9" y="257.58" width="1.4" height="5.6" rx="0.5" fill="#17884b"/>
<rect x="164.3" y="257.58" width="1.4" height="5.6" rx="0.5" fill="#17884b"/>
<rect x="169.3" y="257.58" width="1.4" height="5.6" rx="0.5" fill="#17884b"/>
<rect x="172.9" y="257.58" width="1.4" height="5.6" rx="0.5" fill="#17884b"/>
<rect x="178.3" y="257.58" width="1.4" height="5.6" rx="0.5" fill="#17884b"/>
<rect x="181.7" y="257.58" width="1.4" height="5.6" rx="0.5" fill="#17884b"/>
<rect x="184.9" y="257.58" width="1.4" height="5.6" rx="0.5" fill="#17884b"/>
<rect x="191.75" y="257.58" width="2.5" height="5.6" rx="0.5" fill="#17884b"/>
<rect x="196.75" y="257.58" width="2.5" height="5.6" rx="0.5" fill="#17884b"/>
<rect x="202.3" y="257.58" width="1.4" height="5.6" rx="0.5" fill="#17884b"/>
<rect x="216" y="257.28" width="36" height="6.2" rx="1" fill="#169a4d"/>
<rect x="218.2" y="257.28" width="0.7" height="6.2" fill="#0c7038" opacity="0.55"/>
<rect x="220.8" y="257.28" width="0.7" height="6.2" fill="#0c7038" opacity="0.55"/>
<rect x="224.3" y="257.28" width="0.7" height="6.2" fill="#0c7038" opacity="0.55"/>
<rect x="228.7" y="257.28" width="0.7" height="6.2" fill="#0c7038" opacity="0.55"/>
<rect x="231.3" y="257.28" width="0.7" height="6.2" fill="#0c7038" opacity="0.55"/>
<rect x="234.8" y="257.28" width="0.7" height="6.2" fill="#0c7038" opacity="0.55"/>
<rect x="239.2" y="257.28" width="0.7" height="6.2" fill="#0c7038" opacity="0.55"/>
<rect x="241.8" y="257.28" width="0.7" height="6.2" fill="#0c7038" opacity="0.55"/>
<rect x="245.3" y="257.28" width="0.7" height="6.2" fill="#0c7038" opacity="0.55"/>
<rect x="249.7" y="257.28" width="0.7" height="6.2" fill="#0c7038" opacity="0.55"/>
<rect x="256" y="257.58" width="2" height="5.6" rx="1" fill="#169a4d"/>
<rect x="261" y="257.58" width="2" height="5.6" rx="1" fill="#169a4d"/>
<rect x="266" y="257.58" width="2" height="5.6" rx="1" fill="#169a4d"/>
<rect x="272" y="257.58" width="2" height="5.6" rx="1" fill="#169a4d"/>
<rect x="280" y="257.58" width="8" height="5.6" rx="1" fill="#169a4d"/>
<rect x="290" y="257.58" width="11" height="5.6" rx="1" fill="#169a4d"/>
<rect x="303" y="257.58" width="2" height="5.6" rx="1" fill="#169a4d"/>
<rect x="144.3" y="267.8" width="1.4" height="5.6" rx="0.5" fill="#17884b"/>
<rect x="213.3" y="267.8" width="1.4" height="5.6" rx="0.5" fill="#17884b"/>
<rect x="270.7" y="267.8" width="1.4" height="5.6" rx="0.5" fill="#17884b"/>
<rect x="293.5" y="267.5" width="22.5" height="6.2" rx="1" fill="#169a4d"/>
<rect x="295.7" y="267.5" width="0.7" height="6.2" fill="#0c7038" opacity="0.55"/>
<rect x="298.3" y="267.5" width="0.7" height="6.2" fill="#0c7038" opacity="0.55"/>
<rect x="301.8" y="267.5" width="0.7" height="6.2" fill="#0c7038" opacity="0.55"/>
<rect x="306.2" y="267.5" width="0.7" height="6.2" fill="#0c7038" opacity="0.55"/>
<rect x="308.8" y="267.5" width="0.7" height="6.2" fill="#0c7038" opacity="0.55"/>
<rect x="312.3" y="267.5" width="0.7" height="6.2" fill="#0c7038" opacity="0.55"/>
<rect x="294.9" y="278.02" width="1.4" height="5.6" rx="0.5" fill="#17884b"/>
<rect x="302" y="278.02" width="10" height="5.6" rx="1" fill="#169a4d"/>
<rect x="37" y="288.24" width="5" height="5.6" rx="1" fill="#169a4d"/>
<rect x="44.9" y="288.24" width="1.4" height="5.6" rx="0.5" fill="#17884b"/>
<rect x="50.5" y="288.24" width="1.4" height="5.6" rx="0.5" fill="#17884b"/>
<rect x="52.9" y="288.24" width="1.4" height="5.6" rx="0.5" fill="#17884b"/>
<rect x="62.3" y="288.24" width="1.4" height="5.6" rx="0.5" fill="#17884b"/>
<rect x="65.3" y="288.24" width="1.4" height="5.6" rx="0.5" fill="#17884b"/>
<rect x="69.3" y="288.24" width="1.4" height="5.6" rx="0.5" fill="#17884b"/>
<rect x="78.8" y="288.24" width="1.4" height="5.6" rx="0.5" fill="#17884b"/>
<rect x="81.1" y="288.24" width="1.4" height="5.6" rx="0.5" fill="#17884b"/>
<rect x="164.9" y="288.24" width="3" height="5.6" rx="0.5" fill="#17884b"/>
<rect x="183.3" y="288.24" width="1.4" height="5.6" rx="0.5" fill="#17884b"/>
<rect x="210.9" y="288.24" width="1.4" height="5.6" rx="0.5" fill="#17884b"/>
<rect x="429.3" y="298.46" width="1.4" height="5.6" rx="0.5" fill="#17884b"/>
</g><g stroke="#a32a1e" stroke-width="0.9">
<line x1="83" y1="19.32" x2="83" y2="31.32"/>
<line x1="31.5" y1="62.2" x2="31.5" y2="67.2"/>
<line x1="52.4" y1="70.42" x2="52.4" y2="82.42"/>
<line x1="41" y1="111.3" x2="41" y2="123.3"/>
<line x1="76.4" y1="111.3" x2="76.4" y2="123.3"/>
<line x1="104" y1="111.3" x2="104" y2="123.3"/>
<line x1="89" y1="131.74" x2="89" y2="143.74"/>
<line x1="30" y1="141.96" x2="30" y2="153.96"/>
<line x1="34.7" y1="141.96" x2="34.7" y2="153.96"/>
<line x1="38.8" y1="141.96" x2="38.8" y2="153.96"/>
<line x1="41.5" y1="141.96" x2="41.5" y2="153.96"/>
<line x1="47" y1="141.96" x2="47" y2="153.96"/>
<line x1="53" y1="141.96" x2="53" y2="153.96"/>
<line x1="55.6" y1="141.96" x2="55.6" y2="153.96"/>
<line x1="64.3" y1="141.96" x2="64.3" y2="153.96"/>
<line x1="72.4" y1="141.96" x2="72.4" y2="153.96"/>
<line x1="81" y1="141.96" x2="81" y2="153.96"/>
<line x1="341.5" y1="193.06" x2="341.5" y2="205.06"/>
<line x1="57" y1="203.28" x2="57" y2="215.28"/>
<line x1="222" y1="244.16" x2="222" y2="256.16"/>
<line x1="292.3" y1="264.6" x2="292.3" y2="276.6"/>
</g>
<g stroke="#000" stroke-width="1.2" fill="none">
<path d="M28.7 7.3V307.1"/>
<path d="M28.1 306.5H510.3"/>
<path d="M26 10.3H28.7"/>
<path d="M26 20.52H28.7"/>
<path d="M26 30.73H28.7"/>
<path d="M26 40.95H28.7"/>
<path d="M26 51.16H28.7"/>
<path d="M26 61.38H28.7"/>
<path d="M26 71.59H28.7"/>
<path d="M26 81.8H28.7"/>
<path d="M26 92.02H28.7"/>
<path d="M26 102.23H28.7"/>
<path d="M26 112.45H28.7"/>
<path d="M26 122.66H28.7"/>
<path d="M26 132.88H28.7"/>
<path d="M26 143.09H28.7"/>
<path d="M26 153.31H28.7"/>
<path d="M26 163.53H28.7"/>
<path d="M26 173.74H28.7"/>
<path d="M26 183.96H28.7"/>
<path d="M26 194.17H28.7"/>
<path d="M26 204.39H28.7"/>
<path d="M26 214.6H28.7"/>
<path d="M26 224.81H28.7"/>
<path d="M26 235.03H28.7"/>
<path d="M26 245.25H28.7"/>
<path d="M26 255.46H28.7"/>
<path d="M26 265.68H28.7"/>
<path d="M26 275.89H28.7"/>
<path d="M26 286.11H28.7"/>
<path d="M26 296.32H28.7"/>
<path d="M26 306.54H28.7"/>
<path d="M29 306.5V309.6"/>
<path d="M88.88 306.5V309.6"/>
<path d="M148.75 306.5V309.6"/>
<path d="M208.62 306.5V309.6"/>
<path d="M268.5 306.5V309.6"/>
<path d="M328.38 306.5V309.6"/>
<path d="M388.25 306.5V309.6"/>
<path d="M448.12 306.5V309.6"/>
<path d="M508 306.5V309.6"/>
</g>
<text class="yl" x="21.8" y="18.15">214</text>
<text class="yl" x="21.8" y="28.37">209</text>
<text class="yl" x="21.8" y="38.59">203</text>
<text class="yl" x="21.8" y="48.81">202</text>
<text class="yl" x="21.8" y="59.03">175</text>
<text class="yl" x="21.8" y="69.25">163</text>
<text class="yl" x="21.8" y="79.47">161</text>
<text class="yl" x="21.8" y="89.69">148</text>
<text class="yl" x="21.8" y="99.91">146</text>
<text class="yl" x="21.8" y="110.13">139</text>
<text class="yl" x="21.8" y="120.35">127</text>
<text class="yl" x="21.8" y="130.57">123</text>
<text class="yl" x="21.8" y="140.79">119</text>
<text class="yl" x="21.8" y="151.01">111</text>
<text class="yl" x="21.8" y="161.23">98</text>
<text class="yl" x="21.8" y="171.45">78</text>
<text class="yl" x="21.8" y="181.67">64</text>
<text class="yl" x="21.8" y="191.89">58</text>
<text class="yl" x="21.8" y="202.11">55</text>
<text class="yl" x="21.8" y="212.33">54</text>
<text class="yl" x="21.8" y="222.55">52</text>
<text class="yl" x="21.8" y="232.77">49</text>
<text class="yl" x="21.8" y="242.99">41</text>
<text class="yl" x="21.8" y="253.21">32</text>
<text class="yl" x="21.8" y="263.43">30</text>
<text class="yl" x="21.8" y="273.65">16</text>
<text class="yl" x="21.8" y="283.87">7</text>
<text class="yl" x="21.8" y="294.09">6</text>
<text class="yl" x="21.8" y="304.31">4</text>
<text class="xl" x="29" y="320.2">0</text>
<text class="xl" x="88.88" y="320.2">2</text>
<text class="xl" x="148.75" y="320.2">4</text>
<text class="xl" x="208.62" y="320.2">6</text>
<text class="xl" x="268.5" y="320.2">8</text>
<text class="xl" x="328.38" y="320.2">10</text>
<text class="xl" x="388.25" y="320.2">12</text>
<text class="xl" x="448.12" y="320.2">14</text>
<text class="xl" x="508" y="320.2">16</text>
<rect x="66.5" y="329.8" width="3.6" height="3.6" fill="#dcdcdc"/><text class="lg" x="74" y="334.3" textLength="52.4" lengthAdjust="spacingAndGlyphs">Mild (&gt;10 g/dL)</text>
<rect x="133.5" y="329.8" width="3.6" height="3.6" fill="#777a78"/><text class="lg" x="140" y="334.3" textLength="78" lengthAdjust="spacingAndGlyphs">Moderate (8.1-10 g/dL)</text>
<rect x="226" y="329.8" width="3.6" height="3.6" fill="#000"/><text class="lg" x="233" y="334.3" textLength="56" lengthAdjust="spacingAndGlyphs">Severe (≤8 g/dL)</text>
<rect x="303.2" y="329.8" width="3.6" height="3.6" fill="#d4d4d4"/><rect x="303.2" y="329.8" width="3.6" height="3.6" fill="url(#h)"/><text class="lg" x="310.3" y="334.3" textLength="27.3" lengthAdjust="spacingAndGlyphs">No Data</text>
<path d="M344.1 329.2L349 334.1M344.1 334.1L349 329.2" stroke="#2ba3cf" stroke-width="1.2" fill="none"/><text class="lg" x="352" y="334.3" textLength="37.2" lengthAdjust="spacingAndGlyphs">Emergency</text>
<path d="M395.6 325V338" stroke="#a32a1e" stroke-width="0.9"/><text class="lg" x="398.4" y="334.3" textLength="28.6" lengthAdjust="spacingAndGlyphs">Inpatient</text>
<rect x="433.3" y="329" width="1.4" height="5.2" rx="0.4" fill="#17884b"/><text class="lg" x="437.6" y="334.3" textLength="35.4" lengthAdjust="spacingAndGlyphs">Outpatient</text>
</svg></body></html>
